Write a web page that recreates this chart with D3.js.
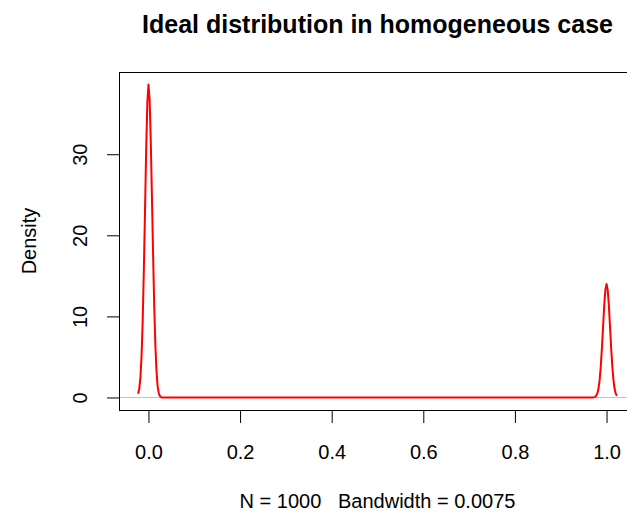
<!DOCTYPE html>
<html>
<head>
<meta charset="utf-8">
<script src="https://cdn.jsdelivr.net/npm/d3@7"></script>
<style>
  body { margin: 0; background: #fff; }
  text { font-family: "Liberation Sans", Arial, sans-serif; fill: #000; white-space: pre; }
</style>
</head>
<body>
<script>
// density estimate (x value, density)
var densX = [-0.0225, -0.02, -0.0175, -0.015, -0.0125, -0.01, -0.0075, -0.005, -0.0025, 0,
  0.0025, 0.005, 0.0075, 0.01, 0.0125, 0.015, 0.0175, 0.02, 0.0225, 0.025, 0.0275, 0.03,
  0.97, 0.9725, 0.975, 0.9775, 0.98, 0.9825, 0.985, 0.9875, 0.99, 0.9925, 0.995, 0.9975, 1.0,
  1.0025, 1.005, 1.0075, 1.01, 1.0125, 1.015, 1.0175, 1.02, 1.0225];
var densY = [0.45, 1.1, 2.5, 5.2, 9.6, 15.9, 23.0, 30.5, 36.3, 38.6,
  36.8, 31.8, 25.0, 18.0, 11.5, 6.6, 3.3, 1.4, 0.55, 0.18, 0.05, 0,
  0, 0.03, 0.08, 0.22, 0.52, 1.1, 2.2, 3.9, 6.2, 8.8, 11.4, 13.3, 14.0,
  13.3, 11.4, 8.8, 6.2, 3.9, 2.2, 1.1, 0.5, 0.2];

var xTicks = [0, 0.2, 0.4, 0.6, 0.8, 1.0];
var xTickLabels = ["0.0", "0.2", "0.4", "0.6", "0.8", "1.0"];
var yTicks = [0, 10, 20, 30];
var yTickLabels = ["0", "10", "20", "30"];

var titleText = "Ideal distribution in homogeneous case";
var xLabelText = "N = 1000   Bandwidth = 0.0075";
var yLabelText = "Density";

var W = 627, H = 512;
// plot region (extends past the right edge, as in the original)
var plotL = 119, plotT = 72, plotB = 410, plotR = 636;

var svg = d3.select("body").append("svg")
  .attr("width", W)
  .attr("height", H);

var x = d3.scaleLinear().domain([-0.0643, 1.0643]).range([plotL, plotR]);
var y = d3.scaleLinear().domain([-1.544, 40.14]).range([plotB, plotT]);

var pts = densX.map(function(v, i) { return [v, densY[i]]; });

// zero reference line
svg.append("line")
  .attr("x1", plotL).attr("x2", plotR)
  .attr("y1", y(0)).attr("y2", y(0))
  .attr("stroke", "#c4c4c4")
  .attr("stroke-width", 1);

// density curve
svg.append("path")
  .datum(pts)
  .attr("fill", "none")
  .attr("stroke", "#ff0000")
  .attr("stroke-width", 2)
  .attr("stroke-linejoin", "round")
  .attr("d", d3.line()
    .x(function(d) { return x(d[0]); })
    .y(function(d) { return y(d[1]); }));

// box
svg.append("rect")
  .attr("x", plotL + 0.5).attr("y", plotT + 0.5)
  .attr("width", plotR - plotL).attr("height", plotB - plotT)
  .attr("fill", "none")
  .attr("stroke", "#000")
  .attr("stroke-width", 1);

// x axis
var xAxis = svg.append("g")
  .attr("transform", "translate(0," + (plotB + 0.5) + ")")
  .call(d3.axisBottom(x).tickValues(xTicks).tickSize(12.5).tickPadding(22)
    .tickFormat(function(d, i) { return xTickLabels[i]; }));
xAxis.select(".domain").remove();
xAxis.append("line")
  .attr("x1", x(xTicks[0])).attr("x2", x(xTicks[xTicks.length - 1]))
  .attr("stroke", "#000");
xAxis.selectAll("text")
  .style("font-size", "20px")
  .style("font-family", "Liberation Sans, Arial, sans-serif")
  .attr("fill", "#000");

// y axis
var yAxis = svg.append("g")
  .attr("transform", "translate(" + (plotL + 0.5) + ",0)")
  .call(d3.axisLeft(y).tickValues(yTicks).tickSize(12.5)
    .tickFormat(function(d, i) { return yTickLabels[i]; }));
yAxis.select(".domain").remove();
yAxis.append("line")
  .attr("y1", y(yTicks[0])).attr("y2", y(yTicks[yTicks.length - 1]))
  .attr("stroke", "#000");
yAxis.selectAll(".tick text")
  .attr("x", null).attr("dy", null)
  .attr("transform", "translate(-32.5,0) rotate(-90)")
  .attr("text-anchor", "middle")
  .style("font-size", "20px")
  .style("font-family", "Liberation Sans, Arial, sans-serif")
  .attr("fill", "#000");

var cx = (plotL + plotR) / 2;

// title
svg.append("text")
  .attr("x", cx).attr("y", 33)
  .attr("text-anchor", "middle")
  .style("font-size", "25px")
  .style("font-weight", "bold")
  .text(titleText);

// x label
svg.append("text")
  .attr("x", cx).attr("y", 508)
  .attr("text-anchor", "middle")
  .attr("xml:space", "preserve")
  .style("font-size", "20px")
  .text(xLabelText);

// y label
svg.append("text")
  .attr("transform", "translate(36," + ((plotT + plotB) / 2) + ") rotate(-90)")
  .attr("text-anchor", "middle")
  .style("font-size", "20px")
  .text(yLabelText);
</script>
</body>
</html>
